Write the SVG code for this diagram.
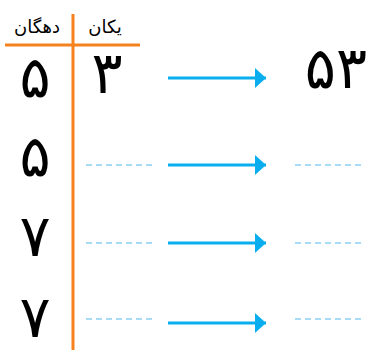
<svg xmlns="http://www.w3.org/2000/svg" width="367" height="350" viewBox="0 0 367 350">
<defs>
<style>
.axis{stroke:#f5821f;stroke-width:3;fill:none}
.arr{stroke:#0aaeef;stroke-width:3;fill:none}
.dash{stroke:#a8dcf6;stroke-width:2;stroke-dasharray:6 4;fill:none}
.dig{font-family:"DejaVu Sans",sans-serif;font-size:58px;fill:#000;text-anchor:middle}
.hd{font-family:"DejaVu Sans",sans-serif;font-size:18px;fill:#000;text-anchor:middle}
</style>
<marker id="ah" markerWidth="11" markerHeight="20" refX="11" refY="10" orient="auto" markerUnits="userSpaceOnUse">
<path d="M0,0 L11,10 L0,20 Z" fill="#0aaeef"/>
</marker>
</defs>
<g id="table">
<line class="axis" x1="73" y1="14" x2="73" y2="350"/>
<line class="axis" x1="5" y1="45" x2="140" y2="45"/>
<text class="hd" x="37" y="33">دهگان</text>
<text class="hd" x="105" y="33">یکان</text>
</g>
<g id="row1">
<text class="dig" x="35" y="97">۵</text>
<text class="dig" x="107" y="93">۳</text>
<text class="dig" x="336" y="88">۵۳</text>
</g>
<g id="row2">
<text class="dig" x="35" y="176">۵</text>
</g>
<g id="row3">
<text class="dig" x="35" y="256">۷</text>
</g>
<g id="row4">
<text class="dig" x="35" y="337">۷</text>
</g>
<g id="connectors">
<line class="arr" x1="168" y1="78" x2="266" y2="78" marker-end="url(#ah)"/>
<line class="arr" x1="168" y1="165" x2="266" y2="165" marker-end="url(#ah)"/>
<line class="arr" x1="168" y1="243" x2="266" y2="243" marker-end="url(#ah)"/>
<line class="arr" x1="168" y1="323" x2="266" y2="323" marker-end="url(#ah)"/>
<line class="dash" x1="86" y1="165" x2="154" y2="165"/>
<line class="dash" x1="86" y1="243" x2="154" y2="243"/>
<line class="dash" x1="86" y1="319" x2="154" y2="319"/>
<line class="dash" x1="295" y1="165" x2="363" y2="165"/>
<line class="dash" x1="295" y1="243" x2="363" y2="243"/>
<line class="dash" x1="295" y1="319" x2="363" y2="319"/>
</g>
</svg>
